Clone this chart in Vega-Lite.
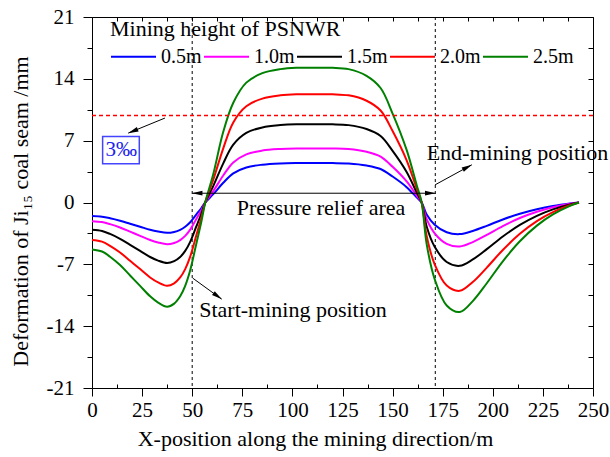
{
 "$schema": "https://vega.github.io/schema/vega-lite/v6.json",
 "width": 501, "height": 371,
 "autosize": {"type": "none"},
 "padding": {"left": 92, "top": 17, "right": 17, "bottom": 69},
 "background": "white",
 "config": {
  "view": {"stroke": null},
  "font": "Liberation Serif",
  "axis": {"grid": false, "domainColor": "black", "tickColor": "black", "labelColor": "black", "titleColor": "black", "labelFont": "Liberation Serif", "titleFont": "Liberation Serif", "titleFontWeight": "normal", "domainWidth": 1, "tickWidth": 1, "labelFlush": false, "labelOverlap": false}
 },
 "datasets": {
  "curves": [
   {"h":"0.5m","x":0,"y":-1.54},{"h":"0.5m","x":5,"y":-1.61},{"h":"0.5m","x":9,"y":-1.78},{"h":"0.5m","x":14,"y":-2.06},{"h":"0.5m","x":19,"y":-2.4},{"h":"0.5m","x":24,"y":-2.74},{"h":"0.5m","x":29,"y":-3.09},{"h":"0.5m","x":33,"y":-3.29},{"h":"0.5m","x":37.5,"y":-3.43},{"h":"0.5m","x":41,"y":-3.33},{"h":"0.5m","x":44,"y":-3.09},{"h":"0.5m","x":46.5,"y":-2.74},{"h":"0.5m","x":49,"y":-2.23},{"h":"0.5m","x":52,"y":-1.37},{"h":"0.5m","x":54.5,"y":-0.65},{"h":"0.5m","x":56.5,"y":0},
   {"h":"0.5m","x":60.5,"y":0.94},{"h":"0.5m","x":65.5,"y":2.23},{"h":"0.5m","x":70.5,"y":3.3},{"h":"0.5m","x":77,"y":3.97},{"h":"0.5m","x":85,"y":4.28},{"h":"0.5m","x":94,"y":4.42},{"h":"0.5m","x":102,"y":4.46},{"h":"0.5m","x":110,"y":4.46},{"h":"0.5m","x":120,"y":4.46},{"h":"0.5m","x":128,"y":4.42},{"h":"0.5m","x":137,"y":4.19},{"h":"0.5m","x":144,"y":3.79},{"h":"0.5m","x":150,"y":2.94},{"h":"0.5m","x":157,"y":1.74},{"h":"0.5m","x":162,"y":0.58},{"h":"0.5m","x":164.5,"y":0},
   {"h":"0.5m","x":167,"y":-1.36},{"h":"0.5m","x":171,"y":-2.51},{"h":"0.5m","x":177,"y":-3.37},{"h":"0.5m","x":183.5,"y":-3.58},{"h":"0.5m","x":190,"y":-3.22},{"h":"0.5m","x":197,"y":-2.64},{"h":"0.5m","x":205,"y":-1.92},{"h":"0.5m","x":213.5,"y":-1.27},{"h":"0.5m","x":222,"y":-0.76},{"h":"0.5m","x":230,"y":-0.39},{"h":"0.5m","x":238.5,"y":-0.11},{"h":"0.5m","x":243,"y":0},
   {"h":"1.0m","x":0,"y":-2.12},{"h":"1.0m","x":5,"y":-2.22},{"h":"1.0m","x":9,"y":-2.45},{"h":"1.0m","x":14,"y":-2.83},{"h":"1.0m","x":19,"y":-3.3},{"h":"1.0m","x":24,"y":-3.78},{"h":"1.0m","x":29,"y":-4.25},{"h":"1.0m","x":33,"y":-4.53},{"h":"1.0m","x":37.5,"y":-4.72},{"h":"1.0m","x":41,"y":-4.58},{"h":"1.0m","x":44,"y":-4.25},{"h":"1.0m","x":46.5,"y":-3.78},{"h":"1.0m","x":49,"y":-3.07},{"h":"1.0m","x":52,"y":-1.89},{"h":"1.0m","x":54.5,"y":-0.9},{"h":"1.0m","x":56.5,"y":0},
   {"h":"1.0m","x":60.5,"y":1.29},{"h":"1.0m","x":65.5,"y":3.06},{"h":"1.0m","x":70.5,"y":4.53},{"h":"1.0m","x":77,"y":5.45},{"h":"1.0m","x":85,"y":5.88},{"h":"1.0m","x":94,"y":6.06},{"h":"1.0m","x":102,"y":6.12},{"h":"1.0m","x":110,"y":6.12},{"h":"1.0m","x":120,"y":6.12},{"h":"1.0m","x":128,"y":6.06},{"h":"1.0m","x":137,"y":5.75},{"h":"1.0m","x":144,"y":5.2},{"h":"1.0m","x":150,"y":4.04},{"h":"1.0m","x":157,"y":2.39},{"h":"1.0m","x":162,"y":0.8},{"h":"1.0m","x":164.5,"y":0},
   {"h":"1.0m","x":167,"y":-1.89},{"h":"1.0m","x":171,"y":-3.49},{"h":"1.0m","x":177,"y":-4.68},{"h":"1.0m","x":183.5,"y":-4.98},{"h":"1.0m","x":190,"y":-4.48},{"h":"1.0m","x":197,"y":-3.67},{"h":"1.0m","x":205,"y":-2.67},{"h":"1.0m","x":213.5,"y":-1.76},{"h":"1.0m","x":222,"y":-1.05},{"h":"1.0m","x":230,"y":-0.54},{"h":"1.0m","x":238.5,"y":-0.15},{"h":"1.0m","x":243,"y":0},
   {"h":"1.5m","x":0,"y":-3.08},{"h":"1.5m","x":5,"y":-3.22},{"h":"1.5m","x":9,"y":-3.56},{"h":"1.5m","x":14,"y":-4.11},{"h":"1.5m","x":19,"y":-4.8},{"h":"1.5m","x":24,"y":-5.48},{"h":"1.5m","x":29,"y":-6.17},{"h":"1.5m","x":33,"y":-6.58},{"h":"1.5m","x":37.5,"y":-6.85},{"h":"1.5m","x":41,"y":-6.64},{"h":"1.5m","x":44,"y":-6.17},{"h":"1.5m","x":46.5,"y":-5.48},{"h":"1.5m","x":49,"y":-4.45},{"h":"1.5m","x":52,"y":-2.74},{"h":"1.5m","x":54.5,"y":-1.3},{"h":"1.5m","x":56.5,"y":0},
   {"h":"1.5m","x":60.5,"y":1.86},{"h":"1.5m","x":65.5,"y":4.43},{"h":"1.5m","x":70.5,"y":6.55},{"h":"1.5m","x":77,"y":7.88},{"h":"1.5m","x":85,"y":8.5},{"h":"1.5m","x":94,"y":8.76},{"h":"1.5m","x":102,"y":8.85},{"h":"1.5m","x":110,"y":8.85},{"h":"1.5m","x":120,"y":8.85},{"h":"1.5m","x":128,"y":8.76},{"h":"1.5m","x":137,"y":8.32},{"h":"1.5m","x":144,"y":7.52},{"h":"1.5m","x":150,"y":5.84},{"h":"1.5m","x":157,"y":3.45},{"h":"1.5m","x":162,"y":1.15},{"h":"1.5m","x":164.5,"y":0},
   {"h":"1.5m","x":167,"y":-2.72},{"h":"1.5m","x":171,"y":-5.02},{"h":"1.5m","x":177,"y":-6.74},{"h":"1.5m","x":183.5,"y":-7.17},{"h":"1.5m","x":190,"y":-6.45},{"h":"1.5m","x":197,"y":-5.28},{"h":"1.5m","x":205,"y":-3.85},{"h":"1.5m","x":213.5,"y":-2.54},{"h":"1.5m","x":222,"y":-1.51},{"h":"1.5m","x":230,"y":-0.78},{"h":"1.5m","x":238.5,"y":-0.22},{"h":"1.5m","x":243,"y":0},
   {"h":"2.0m","x":0,"y":-4.24},{"h":"2.0m","x":5,"y":-4.43},{"h":"2.0m","x":9,"y":-4.9},{"h":"2.0m","x":14,"y":-5.66},{"h":"2.0m","x":19,"y":-6.6},{"h":"2.0m","x":24,"y":-7.54},{"h":"2.0m","x":29,"y":-8.49},{"h":"2.0m","x":33,"y":-9.05},{"h":"2.0m","x":37.5,"y":-9.43},{"h":"2.0m","x":41,"y":-9.15},{"h":"2.0m","x":44,"y":-8.49},{"h":"2.0m","x":46.5,"y":-7.54},{"h":"2.0m","x":49,"y":-6.13},{"h":"2.0m","x":52,"y":-3.77},{"h":"2.0m","x":54.5,"y":-1.79},{"h":"2.0m","x":56.5,"y":0},
   {"h":"2.0m","x":60.5,"y":2.57},{"h":"2.0m","x":65.5,"y":6.13},{"h":"2.0m","x":70.5,"y":9.07},{"h":"2.0m","x":77,"y":10.9},{"h":"2.0m","x":85,"y":11.76},{"h":"2.0m","x":94,"y":12.13},{"h":"2.0m","x":102,"y":12.25},{"h":"2.0m","x":110,"y":12.25},{"h":"2.0m","x":120,"y":12.25},{"h":"2.0m","x":128,"y":12.13},{"h":"2.0m","x":137,"y":11.52},{"h":"2.0m","x":144,"y":10.41},{"h":"2.0m","x":150,"y":8.09},{"h":"2.0m","x":157,"y":4.78},{"h":"2.0m","x":162,"y":1.59},{"h":"2.0m","x":164.5,"y":0},
   {"h":"2.0m","x":167,"y":-3.8},{"h":"2.0m","x":171,"y":-7.0},{"h":"2.0m","x":177,"y":-9.4},{"h":"2.0m","x":183.5,"y":-10.0},{"h":"2.0m","x":190,"y":-9.0},{"h":"2.0m","x":197,"y":-7.37},{"h":"2.0m","x":205,"y":-5.37},{"h":"2.0m","x":213.5,"y":-3.54},{"h":"2.0m","x":222,"y":-2.11},{"h":"2.0m","x":230,"y":-1.09},{"h":"2.0m","x":238.5,"y":-0.31},{"h":"2.0m","x":243,"y":0},
   {"h":"2.5m","x":0,"y":-5.31},{"h":"2.5m","x":5,"y":-5.55},{"h":"2.5m","x":9,"y":-6.14},{"h":"2.5m","x":14,"y":-7.08},{"h":"2.5m","x":19,"y":-8.26},{"h":"2.5m","x":24,"y":-9.44},{"h":"2.5m","x":29,"y":-10.62},{"h":"2.5m","x":33,"y":-11.33},{"h":"2.5m","x":37.5,"y":-11.8},{"h":"2.5m","x":41,"y":-11.45},{"h":"2.5m","x":44,"y":-10.62},{"h":"2.5m","x":46.5,"y":-9.44},{"h":"2.5m","x":49,"y":-7.67},{"h":"2.5m","x":52,"y":-4.72},{"h":"2.5m","x":54.5,"y":-2.24},{"h":"2.5m","x":56.5,"y":0},
   {"h":"2.5m","x":60.5,"y":3.2},{"h":"2.5m","x":65.5,"y":8.0},{"h":"2.5m","x":70.5,"y":11.29},{"h":"2.5m","x":77,"y":13.57},{"h":"2.5m","x":85,"y":14.64},{"h":"2.5m","x":94,"y":15.1},{"h":"2.5m","x":102,"y":15.25},{"h":"2.5m","x":110,"y":15.25},{"h":"2.5m","x":120,"y":15.25},{"h":"2.5m","x":128,"y":15.1},{"h":"2.5m","x":137,"y":14.34},{"h":"2.5m","x":144,"y":12.96},{"h":"2.5m","x":150,"y":10.07},{"h":"2.5m","x":157,"y":5.95},{"h":"2.5m","x":162,"y":1.98},{"h":"2.5m","x":164.5,"y":0},
   {"h":"2.5m","x":167,"y":-4.71},{"h":"2.5m","x":171,"y":-8.68},{"h":"2.5m","x":177,"y":-11.66},{"h":"2.5m","x":183.5,"y":-12.4},{"h":"2.5m","x":190,"y":-11.16},{"h":"2.5m","x":197,"y":-9.14},{"h":"2.5m","x":205,"y":-6.66},{"h":"2.5m","x":213.5,"y":-4.39},{"h":"2.5m","x":222,"y":-2.62},{"h":"2.5m","x":230,"y":-1.35},{"h":"2.5m","x":238.5,"y":-0.38},{"h":"2.5m","x":243,"y":0}
  ],
  "vlines": [{"x": 50}, {"x": 171.3}],
  "hline": [{"y": 9.85}],
  "box": [{"x": 5.3, "x2": 23.6, "y": 4.38, "y2": 7.47}],
  "segs": [
   {"x": 36.4, "y": 9.56, "x2": 18.1, "y2": 7.86},
   {"x": 171.2, "y": 2.0, "x2": 189.5, "y2": 4.27},
   {"x": 50.25, "y": -8.56, "x2": 64.7, "y2": -10.94},
   {"x": 50, "y": 1.05, "x2": 171.3, "y2": 1.05}
  ],
  "labels": [
   {"t": "Pressure relief area", "x": 72.2, "y": -1.39},
   {"t": "End-mining position", "x": 167, "y": 4.84},
   {"t": "Start-mining position", "x": 53.5, "y": -12.94}
  ],
  "pct": [{"t": "3‰", "x": 14.6, "y": 5.3}]
 },
 "resolve": {"axis": {"x": "independent", "y": "independent"}},
 "layer": [
  {
   "data": {"name": "vlines"},
   "mark": {"type": "rule", "color": "black", "stroke": "black", "strokeDash": [3, 3], "strokeWidth": 1},
   "encoding": {
    "x": {"field": "x", "type": "quantitative", "scale": {"domain": [0, 250], "nice": false, "zero": false},
     "axis": {"orient": "top", "values": [0,12.5,25,37.5,50,62.5,75,87.5,100,112.5,125,137.5,150,162.5,175,187.5,200,212.5,225,237.5,250], "tickSize": -4, "labels": false, "title": null, "domain": true}}
   }
  },
  {
   "data": {"name": "curves"},
   "mark": {"type": "line", "strokeWidth": 2, "interpolate": "catmull-rom"},
   "encoding": {
    "x": {"field": "x", "type": "quantitative", "scale": {"domain": [0, 250], "nice": false, "zero": false},
     "axis": {"orient": "bottom", "values": [0,25,50,75,100,125,150,175,200,225,250], "tickSize": 8, "labelFontSize": 21, "labelPadding": 3,
      "title": "X-position along the mining direction/m", "titleFontSize": 22, "titleX": 223, "titleY": 50, "titleBaseline": "middle", "titleAlign": "center"}},
    "y": {"field": "y", "type": "quantitative", "scale": {"domain": [-21, 21], "nice": false, "zero": false},
     "axis": {"orient": "left", "values": [-21,-14,-7,0,7,14,21], "tickSize": 9, "labelFontSize": 21, "labelPadding": 9, "labelExpr": "'' + datum.value",
      "title": "Deformation of Ji₁₅ coal seam /mm", "titleFontSize": 22, "titleX": -72, "titleY": 194, "titleAngle": 270, "titleBaseline": "middle", "titleAlign": "center"}},
    "color": {"field": "h", "type": "nominal",
     "scale": {"domain": ["0.5m","1.0m","1.5m","2.0m","2.5m"], "range": ["#0000ff","#ff00ff","#000000","#ff0000","#008000"]},
     "legend": {"title": "Mining height of PSNWR", "titleLimit": 500, "labelLimit": 200, "orient": "none", "legendX": 18, "legendY": 2, "direction": "horizontal", "columns": 5,
      "symbolType": "stroke", "symbolSize": 2025, "symbolStrokeWidth": 2, "labelFontSize": 20, "titleFontSize": 22, "titleFontWeight": "normal",
      "labelOffset": 4, "columnPadding": -2, "titlePadding": -8, "padding": 0, "labelFont": "Liberation Serif", "titleFont": "Liberation Serif",
      "titleColor": "black", "labelColor": "black"}}
   }
  },
  {
   "data": {"name": "hline"},
   "mark": {"type": "rule", "color": "#ff0000", "stroke": "#ff0000", "strokeDash": [4, 3], "strokeWidth": 1.3},
   "encoding": {
    "y": {"field": "y", "type": "quantitative", "scale": {"domain": [-21, 21], "nice": false, "zero": false},
     "axis": {"orient": "right", "values": [-21,-17.5,-14,-10.5,-7,-3.5,0,3.5,7,10.5,14,17.5,21], "tickSize": -5, "labels": false, "title": null, "domain": true}}
   }
  },
  {
   "data": {"name": "segs"},
   "mark": {"type": "rule", "color": "black", "strokeWidth": 1},
   "encoding": {
    "x": {"field": "x", "type": "quantitative", "scale": {"domain": [0, 250], "nice": false, "zero": false}, "axis": null},
    "y": {"field": "y", "type": "quantitative", "scale": {"domain": [-21, 21], "nice": false, "zero": false}, "axis": null},
    "x2": {"field": "x2"},
    "y2": {"field": "y2"}
   }
  },
  {
   "data": {"values": [{"x": 20.4, "y": 8.07}]},
   "mark": {"type": "point", "shape": "M0,-1L0.45,1L-0.45,1Z", "filled": true, "color": "black", "opacity": 1, "size": 110, "angle": 247.8},
   "encoding": {
    "x": {"field": "x", "type": "quantitative", "scale": {"domain": [0, 250], "nice": false, "zero": false}, "axis": null},
    "y": {"field": "y", "type": "quantitative", "scale": {"domain": [-21, 21], "nice": false, "zero": false}, "axis": null}
   }
  },
  {
   "data": {"values": [{"x": 187.3, "y": 4.0}]},
   "mark": {"type": "point", "shape": "M0,-1L0.45,1L-0.45,1Z", "filled": true, "color": "black", "opacity": 1, "size": 110, "angle": 61.4},
   "encoding": {
    "x": {"field": "x", "type": "quantitative", "scale": {"domain": [0, 250], "nice": false, "zero": false}, "axis": null},
    "y": {"field": "y", "type": "quantitative", "scale": {"domain": [-21, 21], "nice": false, "zero": false}, "axis": null}
   }
  },
  {
   "data": {"values": [{"x": 62.7, "y": -10.61}]},
   "mark": {"type": "point", "shape": "M0,-1L0.45,1L-0.45,1Z", "filled": true, "color": "black", "opacity": 1, "size": 110, "angle": 125.9},
   "encoding": {
    "x": {"field": "x", "type": "quantitative", "scale": {"domain": [0, 250], "nice": false, "zero": false}, "axis": null},
    "y": {"field": "y", "type": "quantitative", "scale": {"domain": [-21, 21], "nice": false, "zero": false}, "axis": null}
   }
  },
  {
   "data": {"values": [{"x": 52.5, "y": 1.05}]},
   "mark": {"type": "point", "shape": "M0,-1L0.45,1L-0.45,1Z", "filled": true, "color": "black", "opacity": 1, "size": 110, "angle": 270},
   "encoding": {
    "x": {"field": "x", "type": "quantitative", "scale": {"domain": [0, 250], "nice": false, "zero": false}, "axis": null},
    "y": {"field": "y", "type": "quantitative", "scale": {"domain": [-21, 21], "nice": false, "zero": false}, "axis": null}
   }
  },
  {
   "data": {"values": [{"x": 168.8, "y": 1.05}]},
   "mark": {"type": "point", "shape": "M0,-1L0.45,1L-0.45,1Z", "filled": true, "color": "black", "opacity": 1, "size": 110, "angle": 90},
   "encoding": {
    "x": {"field": "x", "type": "quantitative", "scale": {"domain": [0, 250], "nice": false, "zero": false}, "axis": null},
    "y": {"field": "y", "type": "quantitative", "scale": {"domain": [-21, 21], "nice": false, "zero": false}, "axis": null}
   }
  },
  {
   "data": {"name": "box"},
   "mark": {"type": "rect", "fill": "white", "stroke": "#4444ff", "strokeWidth": 1.5},
   "encoding": {
    "x": {"field": "x", "type": "quantitative", "scale": {"domain": [0, 250], "nice": false, "zero": false}, "axis": null},
    "y": {"field": "y", "type": "quantitative", "scale": {"domain": [-21, 21], "nice": false, "zero": false}, "axis": null},
    "x2": {"field": "x2"},
    "y2": {"field": "y2"}
   }
  },
  {
   "data": {"name": "pct"},
   "mark": {"type": "text", "align": "center", "baseline": "alphabetic", "fontSize": 21, "font": "Liberation Serif", "color": "#2222ee"},
   "encoding": {
    "x": {"field": "x", "type": "quantitative", "scale": {"domain": [0, 250], "nice": false, "zero": false}, "axis": null},
    "y": {"field": "y", "type": "quantitative", "scale": {"domain": [-21, 21], "nice": false, "zero": false}, "axis": null},
    "text": {"field": "t"}
   }
  },
  {
   "data": {"name": "labels"},
   "mark": {"type": "text", "align": "left", "baseline": "alphabetic", "fontSize": 22, "font": "Liberation Serif", "color": "black"},
   "encoding": {
    "x": {"field": "x", "type": "quantitative", "scale": {"domain": [0, 250], "nice": false, "zero": false},
     "axis": {"orient": "bottom", "values": [12.5,37.5,62.5,87.5,112.5,137.5,162.5,187.5,212.5,237.5], "tickSize": -4, "labels": false, "domain": false, "title": null}},
    "y": {"field": "y", "type": "quantitative", "scale": {"domain": [-21, 21], "nice": false, "zero": false},
     "axis": {"orient": "left", "values": [-17.5,-10.5,-3.5,3.5,10.5,17.5], "tickSize": 5, "labels": false, "domain": false, "title": null}},
    "text": {"field": "t"}
   }
  }
 ]
}
